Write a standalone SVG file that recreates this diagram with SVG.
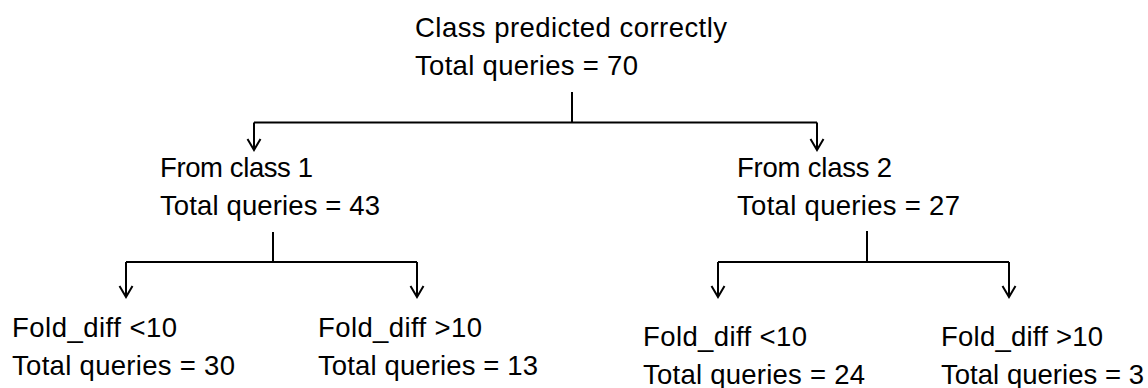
<svg xmlns="http://www.w3.org/2000/svg" width="1148" height="388" viewBox="0 0 1148 388">
  <style>
    .t { font-family: "Liberation Sans", Arial, sans-serif; font-size: 27.5px; fill: #000; }
    .c { fill: none; stroke: #000; stroke-width: 2; }
  </style>
  <defs>
    <marker id="arr" markerUnits="userSpaceOnUse" markerWidth="16" markerHeight="16" viewBox="-13 -8 15 16" refX="0" refY="0" orient="auto">
      <path d="M-11,-6.5 L0,0 L-11,6.5" fill="none" stroke="#000" stroke-width="2"/>
    </marker>
  </defs>
  <rect width="1148" height="388" fill="#fff"/>

  <g id="connectors">
    <path class="c" d="M572,92 V122.5"/>
    <path class="c" d="M254,122.5 H817"/>
    <path class="c" d="M254,122.5 V150" marker-end="url(#arr)"/>
    <path class="c" d="M817,122.5 V150" marker-end="url(#arr)"/>

    <path class="c" d="M273,232 V262"/>
    <path class="c" d="M126,262 H417"/>
    <path class="c" d="M126,262 V297" marker-end="url(#arr)"/>
    <path class="c" d="M417,262 V297" marker-end="url(#arr)"/>

    <path class="c" d="M867,231 V262"/>
    <path class="c" d="M718,262 H1009"/>
    <path class="c" d="M718,262 V297" marker-end="url(#arr)"/>
    <path class="c" d="M1009,262 V297" marker-end="url(#arr)"/>
  </g>

  <g id="root">
    <text class="t" x="415" y="37" textLength="312">Class predicted correctly</text>
    <text class="t" x="415" y="75" textLength="223">Total queries = 70</text>
  </g>
  <g id="class1">
    <text class="t" x="160" y="177" textLength="153">From class 1</text>
    <text class="t" x="160" y="215" textLength="220">Total queries = 43</text>
  </g>
  <g id="class2">
    <text class="t" x="737" y="177" textLength="155">From class 2</text>
    <text class="t" x="737" y="215" textLength="223">Total queries = 27</text>
  </g>
  <g id="c1-lt10">
    <text class="t" x="12" y="337" textLength="165">Fold_diff &lt;10</text>
    <text class="t" x="12" y="375" textLength="223">Total queries = 30</text>
  </g>
  <g id="c1-gt10">
    <text class="t" x="318" y="337" textLength="164">Fold_diff &gt;10</text>
    <text class="t" x="318" y="375" textLength="220">Total queries = 13</text>
  </g>
  <g id="c2-lt10">
    <text class="t" x="643" y="346" textLength="164">Fold_diff &lt;10</text>
    <text class="t" x="643" y="384" textLength="222">Total queries = 24</text>
  </g>
  <g id="c2-gt10">
    <text class="t" x="941" y="346" textLength="162">Fold_diff &gt;10</text>
    <text class="t" x="941" y="384" textLength="203">Total queries = 3</text>
  </g>
</svg>
